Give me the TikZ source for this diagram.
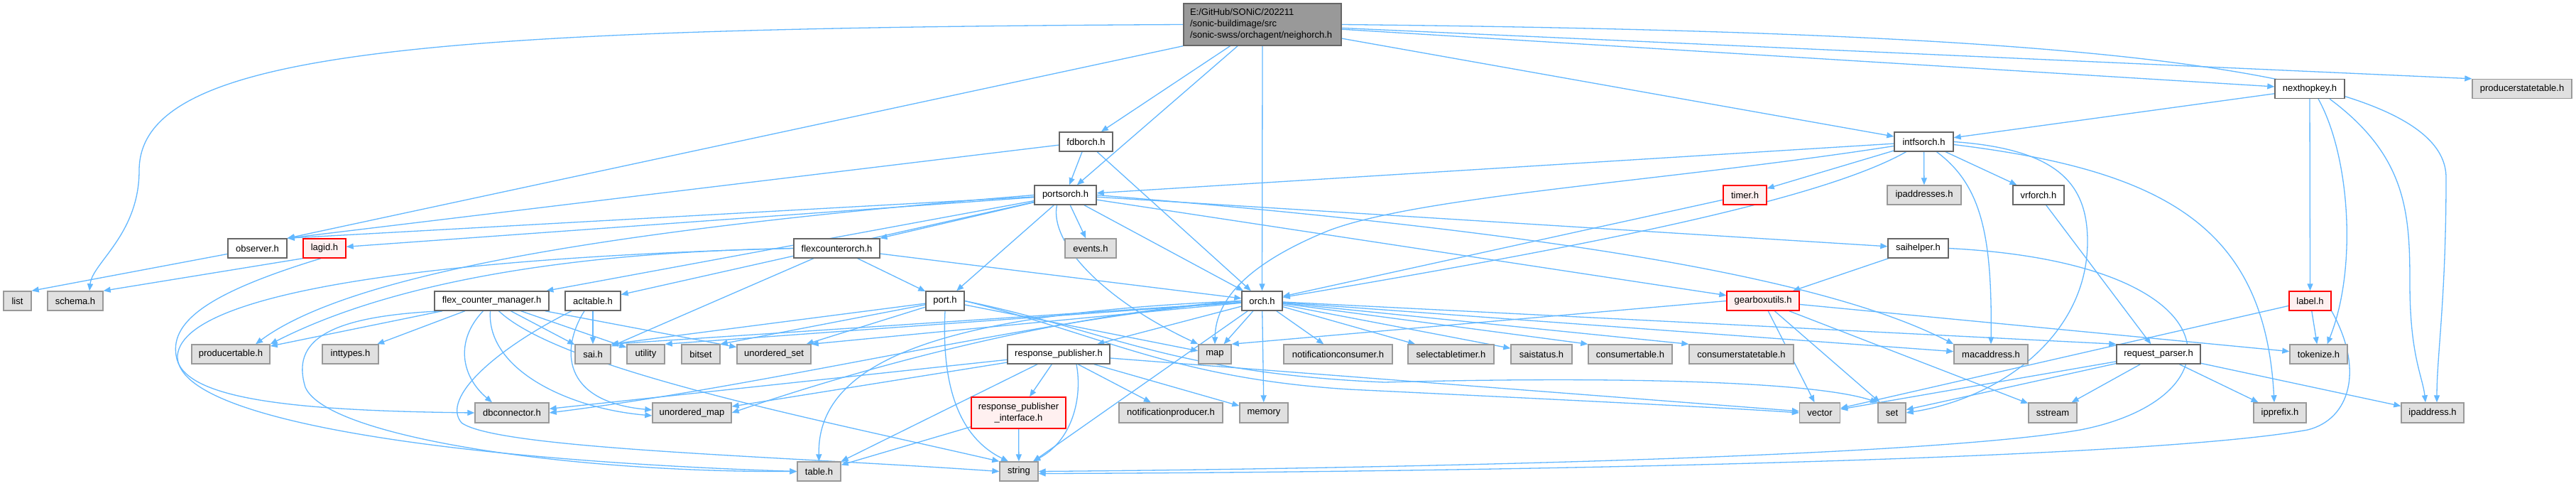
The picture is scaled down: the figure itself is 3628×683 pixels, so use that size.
\documentclass[tikz,border=0pt]{standalone}
\usepackage{fontspec}
\setmainfont{Liberation Sans}
\usetikzlibrary{arrows.meta,backgrounds}
\definecolor{edgec}{HTML}{63B8FF}
\definecolor{darkb}{HTML}{666666}
\definecolor{grayb}{HTML}{999999}
\definecolor{grayf}{HTML}{E0E0E0}
\definecolor{mainf}{HTML}{999999}
\definecolor{redf}{HTML}{FFF0F0}
\definecolor{redb}{HTML}{FF0000}
\begin{document}
\begin{tikzpicture}[x=1pt,y=-1pt,
  box/.style={draw=darkb, fill=white, line width=1.4pt, minimum height=27pt, inner sep=0pt, font=\fontsize{13pt}{16pt}\selectfont, text=black},
  ext/.style={box, draw=grayb, fill=grayf},
  trunc/.style={box, draw=redb, fill=redf},
  mainbox/.style={box, fill=mainf},
  e/.style={draw=edgec, line width=1.3pt, -{Triangle[length=10pt,width=8pt]}},
]
\useasboundingbox (0,0) rectangle (3628,683);
% ---------- nodes ----------
\node[mainbox, minimum width=222pt, minimum height=59pt, text width=204pt, align=left] (N) at (1778,34.5) {E:/GitHub/SONiC/202211\\/sonic-buildimage/src\\/sonic-swss/orchagent/neighorch.h};
\node[box, minimum width=98pt] (NK) at (3253,125) {nexthopkey.h};
\node[ext, minimum width=140pt] (pst) at (3552,125) {producerstatetable.h};
\node[box, minimum width=83pt] (I) at (2709.5,199.5) {intfsorch.h};
\node[box, minimum width=75pt] (F) at (1529.5,199.5) {fdborch.h};
\node[box, minimum width=87pt] (P) at (1500.5,274.5) {portsorch.h};
\node[trunc, minimum width=61pt] (timer) at (2457.5,274.5) {timer.h};
\node[ext, minimum width=104pt] (ipas) at (2710,274.5) {ipaddresses.h};
\node[box, minimum width=72pt] (vrf) at (2871,274.5) {vrforch.h};
\node[box, minimum width=85pt] (sh) at (2701.5,349.5) {saihelper.h};
\node[box, minimum width=83pt] (obs) at (362.5,349.5) {observer.h};
\node[trunc, minimum width=60pt] (lagid) at (457,349.5) {lagid.h};
\node[box, minimum width=121pt] (fco) at (1178.5,349.5) {flexcounterorch.h};
\node[ext, minimum width=72pt] (events) at (1536,349.5) {events.h};
\node[ext, minimum width=39pt] (list) at (24.5,423.5) {list};
\node[ext, minimum width=78pt] (schema) at (106,423.5) {schema.h};
\node[box, minimum width=161pt] (fcm) at (692.5,423.5) {flex\_counter\_manager.h};
\node[box, minimum width=78pt] (acl) at (835,423.5) {acltable.h};
\node[box, minimum width=54pt] (port) at (1331,423.5) {port.h};
\node[box, minimum width=57pt] (orch) at (1777.5,423.5) {orch.h};
\node[trunc, minimum width=102pt] (gb) at (2483,423.5) {gearboxutils.h};
\node[trunc, minimum width=59pt] (lbl) at (3253.5,423.5) {label.h};
\node[ext, minimum width=110pt] (pt) at (325,498.5) {producertable.h};
\node[ext, minimum width=79pt] (inttypes) at (493.5,498.5) {inttypes.h};
\node[ext, minimum width=50pt] (sai) at (835,498.5) {sai.h};
\node[ext, minimum width=53pt] (utility) at (909.5,498.5) {utility};
\node[ext, minimum width=54pt] (bitset) at (987,498.5) {bitset};
\node[ext, minimum width=104pt] (uset) at (1090,498.5) {unordered\_set};
\node[ext, minimum width=46pt] (nmap) at (1711,498.5) {map};
\node[box, minimum width=144pt] (rp) at (1491,498.5) {response\_publisher.h};
\node[ext, minimum width=153pt] (ncons) at (1884.5,498.5) {notificationconsumer.h};
\node[ext, minimum width=121pt] (seltimer) at (2043.5,498.5) {selectabletimer.h};
\node[ext, minimum width=86pt] (saistatus) at (2171,498.5) {saistatus.h};
\node[ext, minimum width=118pt] (ctable) at (2296,498.5) {consumertable.h};
\node[ext, minimum width=147pt] (cstable) at (2452.5,498.5) {consumerstatetable.h};
\node[ext, minimum width=104pt] (mac) at (2804,498.5) {macaddress.h};
\node[box, minimum width=118pt] (rq) at (3040,498.5) {request\_parser.h};
\node[ext, minimum width=81pt] (tok) at (3265.5,498.5) {tokenize.h};
\node[ext, minimum width=104pt, minimum height=28pt] (dbc) at (721,581) {dbconnector.h};
\node[ext, minimum width=111pt, minimum height=28pt] (umap) at (974.5,581) {unordered\_map};
\node[trunc, minimum width=133pt, minimum height=44pt, align=center] (rpi) at (1434.5,581) {response\_publisher\\\_interface.h};
\node[ext, minimum width=146pt, minimum height=28pt] (nprod) at (1649,581) {notificationproducer.h};
\node[ext, minimum width=68pt, minimum height=28pt] (memory) at (1780,581) {memory};
\node[ext, minimum width=57pt, minimum height=28pt] (vector) at (2563,581) {vector};
\node[ext, minimum width=39pt, minimum height=28pt] (nset) at (2664.5,581) {set};
\node[ext, minimum width=68pt, minimum height=28pt] (sstream) at (2891,581) {sstream};
\node[ext, minimum width=74pt, minimum height=28pt] (ipprefix) at (3211,581) {ipprefix.h};
\node[ext, minimum width=88pt, minimum height=28pt] (ipaddr) at (3426,581) {ipaddress.h};
\node[ext, minimum width=61pt] (table) at (1153.5,663.5) {table.h};
\node[ext, minimum width=54pt] (string) at (1435,663.5) {string};
% ---------- edges ----------
\begin{scope}[on background layer]
\fill[white] (0,0) rectangle (3628,683);
% neighorch.h
\draw[e] (N.west) .. controls (600,40) and (196,70) .. (196,240) .. controls (196,330) and (130,370) .. ([xshift=20pt]schema.north);
\draw[e] (N.south west) -- (obs.north east);
\draw[e] (N) -- (F);
\draw[e] (N) -- (P);
\draw[e] (N.south) -- (orch.north);
\draw[e] (N) -- (I);
\draw[e] (N) -- (NK);
\draw[e] (N) -- (pst.north west);
\draw[e] (N.east) .. controls (2900,45) and (3445,90) .. (3445,250) .. controls (3445,420) and (3432,500) .. ([xshift=6pt]ipaddr.north);
% nexthopkey.h
\draw[e] (NK) -- (I);
\draw[e] (NK.south) -- (lbl.north);
\draw[e] ([xshift=12pt]NK.south) .. controls (3310,220) and (3320,380) .. ([xshift=12pt]tok.north);
\draw[e] ([xshift=28pt]NK.south) .. controls (3390,220) and (3394,300) .. (3394,400) .. controls (3394,500) and (3412,530) .. ([xshift=-10pt]ipaddr.north);
% fdborch.h
\draw[e] (F) -- (obs.north east);
\draw[e] (F) -- (P);
\draw[e] (F) -- (orch);
% intfsorch.h
\draw[e] (I) -- (P);
\draw[e] (I) .. controls (2550,290) and (2150,360) .. (orch);
\draw[e] ([yshift=-6pt]I.west) .. controls (2350,255) and (2000,275) .. (1870,325) .. controls (1760,370) and (1712,420) .. (nmap.north);
\draw[e] (I) -- (timer);
\draw[e] (I) -- (ipas);
\draw[e] (I) -- (vrf);
\draw[e] (I.east) .. controls (2900,210) and (2940,260) .. (2940,340) .. controls (2940,470) and (2820,560) .. (nset.east);
\draw[e] ([yshift=-4pt]I.east) .. controls (3050,240) and (3190,320) .. ([xshift=-8pt]ipprefix.north);
\draw[e] ([xshift=18pt]I.south) .. controls (2790,260) and (2806,330) .. (mac.north);
% portsorch.h
\draw[e] (P) -- (obs.north east);
\draw[e] (P) -- (lagid);
\draw[e] (P) -- (fco);
\draw[e] (P) -- (fcm);
\draw[e] (P) -- (acl);
\draw[e] (P) -- (port);
\draw[e] (P) -- (events);
\draw[e] (P) -- (orch);
\draw[e] ([xshift=-12pt]P.south) .. controls (1478,340) and (1550,420) .. (nmap.north west);
\draw[e] (P) -- (sh);
\draw[e] (P) -- (gb);
\draw[e] (P.east) .. controls (2100,320) and (2550,380) .. (mac.north west);
\draw[e] (P.west) .. controls (900,320) and (500,380) .. ([xshift=35pt]pt.north);
% timer.h, vrforch.h, saihelper.h
\draw[e] (timer) -- (orch);
\draw[e] (vrf) -- (rq);
\draw[e] (sh) -- (gb);
\draw[e] (sh.east) .. controls (3150,370) and (3160,560) .. (2930,605) .. controls (2700,645) and (1900,660) .. (string.east);
% observer.h, lagid.h
\draw[e] (obs) -- (list.north east);
\draw[e] (lagid.south west) -- (schema.north east);
\draw[e] ([xshift=-5pt]lagid.south) .. controls (300,410) and (240,450) .. (248,500) .. controls (255,560) and (400,578) .. (dbc.west);
% flexcounterorch.h
\draw[e] (fco) -- (orch);
\draw[e] (fco) -- (port);
\draw[e] (fco.west) .. controls (800,355) and (550,398) .. (pt.north east);
\draw[e] (fco.west) .. controls (700,360) and (260,400) .. (250,500) .. controls (245,600) and (700,650) .. (table.west);
\draw[e] (fco) -- (sai);
% flex_counter_manager.h
\draw[e] (fcm) -- (pt);
\draw[e] (fcm) -- (inttypes);
\draw[e] ([xshift=-12pt]fcm.south) .. controls (640,480) and (650,530) .. ([xshift=-28pt]dbc.north);
\draw[e] ([xshift=-2pt]fcm.south) .. controls (685,520) and (800,575) .. ([yshift=-4pt]umap.west);
\draw[e] ([xshift=10pt]fcm.south) .. controls (790,520) and (1150,590) .. (string.north west);
\draw[e] (fcm) -- (sai);
\draw[e] (fcm) -- (utility);
\draw[e] (fcm) -- (uset);
\draw[e] ([xshift=-70pt]fcm.south) .. controls (460,445) and (410,480) .. (430,545) .. controls (460,615) and (800,665) .. (table.west);
% acltable.h
\draw[e] (acl) -- (sai);
\draw[e] ([xshift=-12pt]acl.south) .. controls (790,490) and (790,565) .. ([yshift=4pt]umap.west);
\draw[e] ([xshift=-30pt]acl.south) .. controls (700,490) and (620,560) .. (650,595) .. controls (700,632) and (1100,642) .. (string.west);
% port.h
\draw[e] (port) -- (sai.north east);
\draw[e] (port) -- (bitset.north east);
\draw[e] (port) -- (uset);
\draw[e] (port) -- (nmap);
\draw[e] (port.south) .. controls (1325,560) and (1360,620) .. ([xshift=-15pt]string.north);
\draw[e] (port.east) .. controls (1550,470) and (1650,532) .. (1900,548) .. controls (2250,565) and (2450,575) .. (vector.west);
\draw[e] (port.east) .. controls (1560,465) and (1650,525) .. (1950,538) .. controls (2250,530) and (2550,535) .. (nset.north west);
% orch.h
\draw[e] (orch) -- (nmap);
\draw[e] (orch) -- (memory);
\draw[e] (orch) -- (ncons);
\draw[e] (orch) -- (seltimer);
\draw[e] (orch) -- (saistatus);
\draw[e] (orch) -- (ctable.north west);
\draw[e] (orch) -- (cstable.north west);
\draw[e] (orch) -- (mac);
\draw[e] (orch) -- (rq.north west);
\draw[e] (orch) -- (rp);
\draw[e] (orch) -- (sai.north east);
\draw[e] (orch) -- (utility.north east);
\draw[e] (orch) -- (uset.north east);
\draw[e] (orch.west) .. controls (1450,445) and (1150,540) .. (umap.east);
\draw[e] (orch.west) .. controls (1450,450) and (1100,540) .. (dbc.east);
\draw[e] (orch.west) .. controls (1350,440) and (1150,500) .. (table.north);
\draw[e] (orch) -- (string);
% response_publisher.h
\draw[e] (rp) -- (rpi);
\draw[e] ([xshift=25pt]rp.south) .. controls (1525,560) and (1510,620) .. ([xshift=20pt]string.north);
\draw[e] (rp) -- (nprod);
\draw[e] (rp) -- (memory);
\draw[e] ([xshift=-30pt]rp.south) -- (table.north east);
\draw[e] (rp) -- (vector);
\draw[e] (rp) -- (dbc);
\draw[e] (rp) -- (umap);
% response_publisher_interface.h
\draw[e] (rpi) -- (string);
\draw[e] (rpi) -- (table);
% gearboxutils.h
\draw[e] (gb.west) -- (nmap.north east);
\draw[e] (gb) -- (vector);
\draw[e] (gb) -- (nset);
\draw[e] (gb) -- (sstream);
\draw[e] (gb) -- (tok);
% label.h
\draw[e] (lbl) -- (vector);
\draw[e] (lbl) -- (tok);
\draw[e] (lbl.south east) .. controls (3330,520) and (3310,590) .. (3250,605) .. controls (3000,650) and (2000,665) .. ([yshift=-3pt]string.east);
% request_parser.h
\draw[e] (rq) -- (vector);
\draw[e] (rq) -- (nset);
\draw[e] (rq) -- (sstream);
\draw[e] (rq) -- (ipprefix);
\draw[e] (rq) -- (ipaddr);
\end{scope}
\end{tikzpicture}
\end{document}
